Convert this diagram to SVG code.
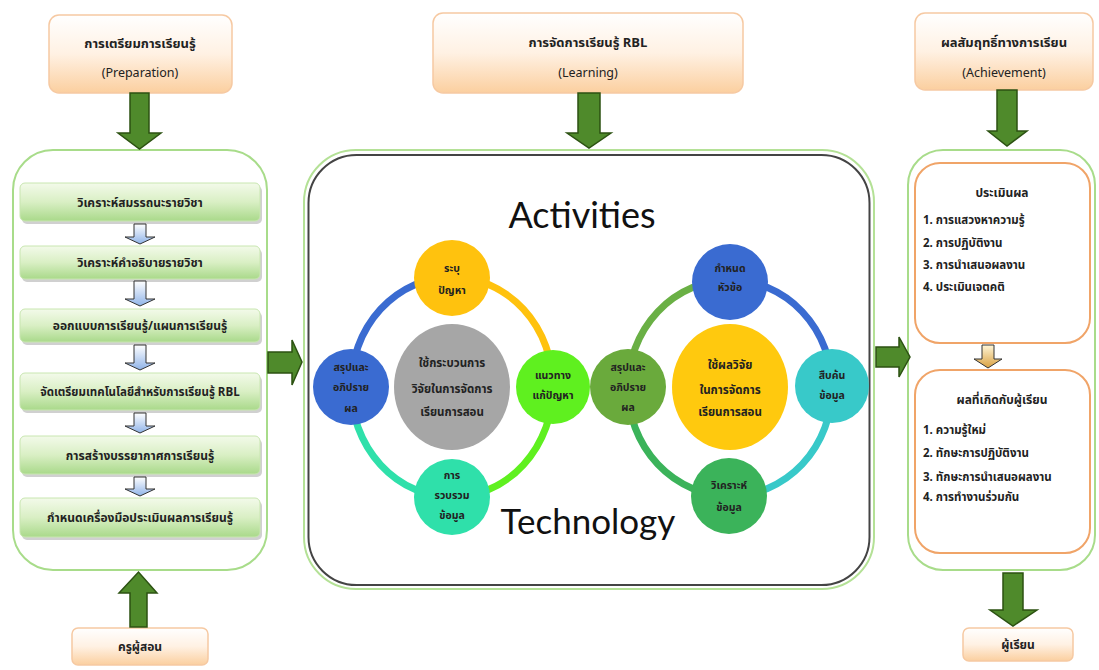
<svg xmlns="http://www.w3.org/2000/svg" width="1099" height="670" viewBox="0 0 1099 670">
<defs>
<linearGradient id="gOr" x1="0" y1="0" x2="0" y2="1"><stop offset="0" stop-color="#ffffff"/><stop offset="0.5" stop-color="#fff1e3"/><stop offset="1" stop-color="#fbcf9f"/></linearGradient>
<linearGradient id="gBar" x1="0" y1="0" x2="0" y2="1"><stop offset="0" stop-color="#f3faea"/><stop offset="0.5" stop-color="#d9efc4"/><stop offset="1" stop-color="#a9d98a"/></linearGradient>
<linearGradient id="gBlue" x1="0" y1="0" x2="0" y2="1"><stop offset="0" stop-color="#ffffff"/><stop offset="1" stop-color="#8fb3e8"/></linearGradient>
<linearGradient id="gYel" x1="0" y1="0" x2="0" y2="1"><stop offset="0" stop-color="#fff6d8"/><stop offset="1" stop-color="#d9a040"/></linearGradient>
<style>
.th{font-family:"Noto Sans Thai","Tahoma","Leelawadee UI","Liberation Sans",sans-serif;fill:#222;text-anchor:middle}
.b{font-weight:bold}
.box{fill:url(#gOr);stroke:#f6c9a2;stroke-width:1.5}
.bar{fill:url(#gBar);stroke:#c8e6b0;stroke-width:1}
.sh{fill:#d0d0d0}
.big{fill:#4f8a2b;stroke:#2c5212;stroke-width:1.5}
.sm{fill:url(#gBlue);stroke:#333;stroke-width:1}
.pan{fill:#fff;stroke:#a8dc8a;stroke-width:2}
.obox{fill:#fff;stroke:#f0a468;stroke-width:2}
.ring{fill:none;stroke-width:7}
.ct{font-size:10.5px;font-weight:bold}
.eng{font-family:"Lato","Open Sans","Liberation Sans",sans-serif;fill:#111;text-anchor:middle}
.li{font-size:11.5px;font-weight:bold;text-anchor:start}
</style>
</defs>

<!-- top boxes -->
<g id="prep">
<rect class="box" x="49" y="15" width="183" height="78" rx="10"/>
<text class="th b" x="140" y="48" font-size="13">การเตรียมการเรียนรู้</text>
<text class="th" x="140" y="77" font-size="12.5">(Preparation)</text>
</g>
<g id="learn">
<rect class="box" x="433" y="13" width="310" height="80" rx="10"/>
<text class="th b" x="588" y="47" font-size="13">การจัดการเรียนรู้ RBL</text>
<text class="th" x="588" y="77" font-size="12.5">(Learning)</text>
</g>
<g id="achieve">
<rect class="box" x="915" y="13" width="178" height="77" rx="10"/>
<text class="th b" x="1004" y="47" font-size="13">ผลสัมฤทธิ์ทางการเรียน</text>
<text class="th" x="1004" y="77" font-size="12.5">(Achievement)</text>
</g>

<!-- left panel -->
<g id="left-panel">
<rect class="pan" x="13" y="150" width="254" height="420" rx="40"/>
</g>
<g id="step1"><rect class="sh" x="22" y="186" width="240" height="38" rx="5"/><rect class="bar" x="20" y="183" width="240" height="38" rx="5"/><text class="th b" x="140" y="207" font-size="12">วิเคราะห์สมรรถนะรายวิชา</text></g>
<g id="step2"><rect class="sh" x="22" y="249" width="240" height="33" rx="5"/><rect class="bar" x="20" y="246" width="240" height="33" rx="5"/><text class="th b" x="140" y="267" font-size="12">วิเคราะห์คำอธิบายรายวิชา</text></g>
<g id="step3"><rect class="sh" x="22" y="312" width="240" height="33" rx="5"/><rect class="bar" x="20" y="309" width="240" height="33" rx="5"/><text class="th b" x="140" y="330" font-size="12">ออกแบบการเรียนรู้/แผนการเรียนรู้</text></g>
<g id="step4"><rect class="sh" x="22" y="376" width="240" height="37" rx="5"/><rect class="bar" x="20" y="373" width="240" height="37" rx="5"/><text class="th b" x="140" y="396" font-size="11.5">จัดเตรียมเทคโนโลยีสำหรับการเรียนรู้ RBL</text></g>
<g id="step5"><rect class="sh" x="22" y="439" width="240" height="38" rx="5"/><rect class="bar" x="20" y="436" width="240" height="38" rx="5"/><text class="th b" x="140" y="460" font-size="12">การสร้างบรรยากาศการเรียนรู้</text></g>
<g id="step6"><rect class="sh" x="22" y="501" width="240" height="39" rx="5"/><rect class="bar" x="20" y="498" width="240" height="39" rx="5"/><text class="th b" x="140" y="522" font-size="12">กำหนดเครื่องมือประเมินผลการเรียนรู้</text></g>

<g id="teacher">
<rect class="box" x="72" y="628" width="136" height="37" rx="6"/>
<text class="th b" x="140" y="651" font-size="12">ครูผู้สอน</text>
</g>

<!-- center panel -->
<g id="center-panel">
<rect x="304" y="150" width="570" height="439" rx="52" fill="#fff" stroke="#b4e196" stroke-width="2"/>
<rect x="308.5" y="155" width="561" height="430" rx="48" fill="none" stroke="#444" stroke-width="2"/>
<text class="eng" x="582" y="228" font-size="36">Activities</text>
<text class="eng" x="588" y="534" font-size="35">Technology</text>
</g>

<!-- left ring -->
<g id="ring-left">
<path class="ring" stroke="#3a6bd1" d="M351,387 A101,110 0 0 1 452,277"/>
<path class="ring" stroke="#ffc20e" d="M452,277 A101,110 0 0 1 553,387"/>
<path class="ring" stroke="#5ff01f" d="M553,387 A101,110 0 0 1 452,497"/>
<path class="ring" stroke="#2fe0aa" d="M452,497 A101,110 0 0 1 351,387"/>
</g>
<g id="c-gray"><ellipse cx="452" cy="387" rx="58" ry="63" fill="#a6a6a6"/>
<text class="th b" font-size="11.5" fill="#333"><tspan x="452" y="367">ใช้กระบวนการ</tspan><tspan x="452" y="393">วิจัยในการจัดการ</tspan><tspan x="452" y="416">เรียนการสอน</tspan></text></g>
<g id="c-identify"><circle cx="452" cy="278" r="38" fill="#ffc20e"/>
<text class="th ct"><tspan x="452" y="272">ระบุ</tspan><tspan x="452" y="294">ปัญหา</tspan></text></g>
<g id="c-solution"><circle cx="553" cy="387" r="37" fill="#5ff01f"/>
<text class="th ct"><tspan x="553" y="379">แนวทาง</tspan><tspan x="553" y="399">แก้ปัญหา</tspan></text></g>
<g id="c-collect"><circle cx="452" cy="497" r="38" fill="#2fe0aa"/>
<text class="th ct"><tspan x="452" y="479">การ</tspan><tspan x="452" y="499">รวบรวม</tspan><tspan x="452" y="519">ข้อมูล</tspan></text></g>
<g id="c-summary1"><circle cx="351" cy="387" r="38" fill="#3a6bd1"/>
<text class="th ct"><tspan x="351" y="371">สรุปและ</tspan><tspan x="351" y="391">อภิปราย</tspan><tspan x="351" y="412">ผล</tspan></text></g>

<!-- right ring -->
<g id="ring-right">
<path class="ring" stroke="#6ab045" d="M628,388 A102,108 0 0 1 730,280"/>
<path class="ring" stroke="#3a6bd1" d="M730,280 A102,108 0 0 1 832,388"/>
<path class="ring" stroke="#38c9c9" d="M832,388 A102,108 0 0 1 730,496"/>
<path class="ring" stroke="#3bb35a" d="M730,496 A102,108 0 0 1 628,388"/>
</g>
<g id="c-yellow"><ellipse cx="730" cy="387" rx="58" ry="63" fill="#ffc90e"/>
<text class="th b" font-size="11.5"><tspan x="730" y="369">ใช้ผลวิจัย</tspan><tspan x="730" y="394">ในการจัดการ</tspan><tspan x="730" y="416">เรียนการสอน</tspan></text></g>
<g id="c-topic"><circle cx="730" cy="282" r="38" fill="#3a6bd1"/>
<text class="th ct"><tspan x="730" y="272">กำหนด</tspan><tspan x="730" y="291">หัวข้อ</tspan></text></g>
<g id="c-search"><circle cx="832" cy="386" r="37" fill="#38c9c9"/>
<text class="th ct"><tspan x="832" y="379">สืบค้น</tspan><tspan x="832" y="399">ข้อมูล</tspan></text></g>
<g id="c-analyze"><circle cx="729" cy="496" r="38" fill="#3bb35a"/>
<text class="th ct"><tspan x="729" y="489">วิเคราะห์</tspan><tspan x="729" y="511">ข้อมูล</tspan></text></g>
<g id="c-summary2"><circle cx="628" cy="387" r="38" fill="#6aaa3c"/>
<text class="th ct"><tspan x="628" y="371">สรุปและ</tspan><tspan x="628" y="391">อภิปราย</tspan><tspan x="628" y="411">ผล</tspan></text></g>

<!-- right panel -->
<g id="right-panel">
<rect class="pan" x="908" y="150" width="187" height="420" rx="35"/>
</g>
<g id="evaluate">
<rect class="obox" x="915" y="163" width="175" height="180" rx="25"/>
<text class="th b" x="1002" y="197" font-size="12">ประเมินผล</text>
<text class="th li" x="923" y="224">1. การแสวงหาความรู้</text>
<text class="th li" x="923" y="247">2. การปฏิบัติงาน</text>
<text class="th li" x="923" y="269">3. การนำเสนอผลงาน</text>
<text class="th li" x="923" y="291">4. ประเมินเจตคติ</text>
</g>
<g id="outcome">
<rect class="obox" x="915" y="370" width="175" height="183" rx="25"/>
<text class="th b" x="1002" y="404" font-size="12">ผลที่เกิดกับผู้เรียน</text>
<text class="th li" x="923" y="434">1. ความรู้ใหม่</text>
<text class="th li" x="923" y="457">2. ทักษะการปฏิบัติงาน</text>
<text class="th li" x="923" y="481">3. ทักษะการนำเสนอผลงาน</text>
<text class="th li" x="923" y="501">4. การทำงานร่วมกัน</text>
</g>
<g id="learner">
<rect class="box" x="963" y="628" width="110" height="33" rx="6"/>
<text class="th b" x="1018" y="649" font-size="12">ผู้เรียน</text>
</g>

<!-- connectors -->
<g id="connectors">
<path class="big" d="M130,93 H149 V133 H161 L139.5,149 L118,133 H130 Z"/>
<path class="big" d="M578,93 H600 V133 H611 L589,148 L567,133 H578 Z"/>
<path class="big" d="M997,90 H1017 V131 H1027 L1007,146 L988,131 H997 Z"/>
<path class="big" d="M130,627 H147 V593 H157 L138.5,572 L119,593 H130 Z"/>
<path class="big" d="M1003,573 H1023 V610 H1037 L1013,626 L990,610 H1003 Z"/>
<path class="big" d="M268,352 H292 V340 L302,362 L292,385 V373 H268 Z"/>
<path class="big" d="M876,347 H899 V337 L910,357 L899,377 V367 H876 Z"/>
<path class="sm" d="M134,224 H146 V237 H155 L140,244 L125,237 H134 Z"/>
<path class="sm" d="M134,281 H146 V299 H155 L140,306 L125,299 H134 Z"/>
<path class="sm" d="M134,345 H146 V363 H155 L140,370 L125,363 H134 Z"/>
<path class="sm" d="M134,413 H146 V426 H155 L140,433 L125,426 H134 Z"/>
<path class="sm" d="M134,477 H146 V489 H155 L140,496 L125,489 H134 Z"/>
<path fill="url(#gYel)" stroke="#333" stroke-width="1" d="M982,345 H994 V359 H1002 L988,368 L974,359 H982 Z"/>
</g>
</svg>
